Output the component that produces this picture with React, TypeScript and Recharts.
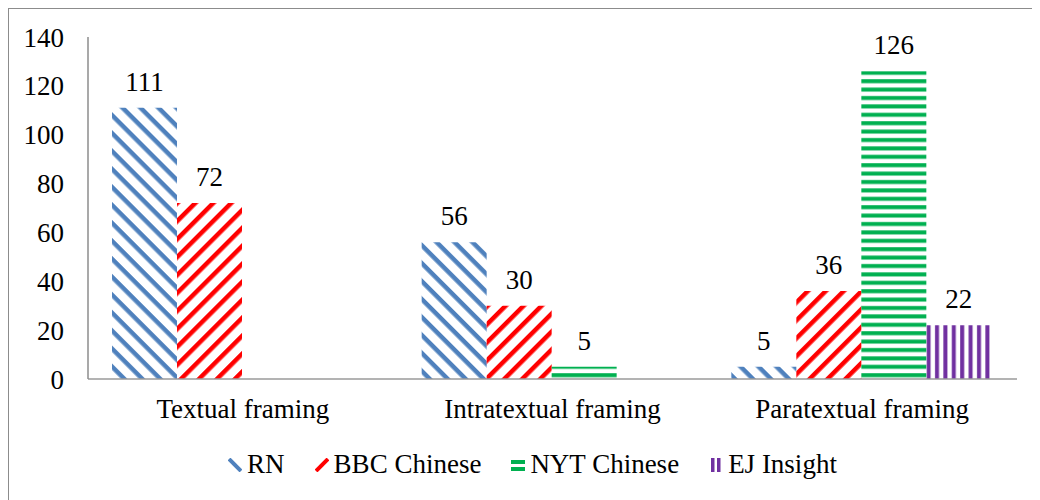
import React from 'react';
import { BarChart, Bar, XAxis, YAxis, LabelList, Legend } from 'recharts';

const categories = ['Textual framing', 'Intratextual framing', 'Paratextual framing'];
const rnValues = [111, 56, 5];
const bbcValues = [72, 30, 36];
const nytValues: (number | null)[] = [null, 5, 126];
const ejValues: (number | null)[] = [null, null, 22];
const yTicks = [0, 20, 40, 60, 80, 100, 120, 140];

const FONT = 'Liberation Serif';
const FS = 27;

const data = categories.map((name, i) => ({
  name,
  rn: rnValues[i],
  bbc: bbcValues[i],
  nyt: nytValues[i],
  ej: ejValues[i],
}));

const series = [
  { key: 'rn', name: 'RN', color: '#4F81BD', fill: 'url(#pRN)' },
  { key: 'bbc', name: 'BBC Chinese', color: '#FF0000', fill: 'url(#pBBC)' },
  { key: 'nyt', name: 'NYT Chinese', color: '#00B050', fill: 'url(#pNYT)' },
  { key: 'ej', name: 'EJ Insight', color: '#7030A0', fill: 'url(#pEJ)' },
];

function ValueLabel(props: any) {
  const { x, y, width, value } = props;
  if (value === null || value === undefined) return null;
  return (
    <text x={x + width / 2} y={y - 17} textAnchor="middle" fontSize={FS} style={{ fontFamily: FONT }} fill="#000">
      {value}
    </text>
  );
}

function LegendIcon({ k, color }: { k: string; color: string }) {
  return (
    <svg width={14} height={14} style={{ marginRight: 5 }}>
      {k === 'rn' && <line x1={1} y1={1} x2={13} y2={13} stroke={color} strokeWidth={4} />}
      {k === 'bbc' && <line x1={1} y1={13} x2={13} y2={1} stroke={color} strokeWidth={4} />}
      {k === 'nyt' && (
        <>
          <rect x={0} y={2} width={14} height={4} fill={color} />
          <rect x={0} y={9} width={14} height={4} fill={color} />
        </>
      )}
      {k === 'ej' && (
        <>
          <rect x={2} y={0} width={3.5} height={14} fill={color} />
          <rect x={8} y={0} width={3.5} height={14} fill={color} />
        </>
      )}
    </svg>
  );
}

function ChartLegend() {
  return (
    <div style={{ display: 'flex', justifyContent: 'center', alignItems: 'center', fontFamily: FONT, fontSize: FS, color: '#000' }}>
      {series.map((s, i) => (
        <div key={s.key} style={{ display: 'flex', alignItems: 'center', marginLeft: i === 0 ? 0 : 30 }}>
          <LegendIcon k={s.key} color={s.color} />
          <span>{s.name}</span>
        </div>
      ))}
    </div>
  );
}

export default function App() {
  return (
    <div style={{ position: 'relative', width: 1040, height: 500, border: '1px solid #8c8c8c', background: '#fff', fontFamily: FONT }}>
      <BarChart
        width={1031}
        height={491}
        data={data}
        margin={{ top: 28, right: 23, left: 0, bottom: 81 }}
        barCategoryGap={24}
        barGap={0}
        style={{ fontFamily: FONT }}
      >
        <defs>
          <pattern id="pRN" patternUnits="userSpaceOnUse" width={12.7} height={12.7} patternTransform="rotate(45)">
            <rect x={0} y={0} width={12.7} height={4.5} fill="#4F81BD" />
          </pattern>
          <pattern id="pBBC" patternUnits="userSpaceOnUse" width={12.7} height={12.7} patternTransform="rotate(-45)">
            <rect x={0} y={0} width={12.7} height={4.5} fill="#FF0000" />
          </pattern>
          <pattern id="pNYT" patternUnits="userSpaceOnUse" width={8.4} height={8.4}>
            <rect x={0} y={3} width={8.4} height={4} fill="#00B050" />
          </pattern>
          <pattern id="pEJ" patternUnits="userSpaceOnUse" width={8.4} height={8.4}>
            <rect x={2} y={0} width={4} height={8.4} fill="#7030A0" />
          </pattern>
        </defs>
        <XAxis
          dataKey="name"
          height={40}
          tickLine={false}
          tickSize={0}
          tickMargin={20}
          stroke="#9a9a9a"
          strokeWidth={1.5}
          tick={{ fontSize: FS, fontFamily: FONT, fill: '#000' }}
        />
        <YAxis
          width={79}
          domain={[0, 140]}
          ticks={yTicks}
          tickLine={false}
          tickSize={0}
          tickMargin={24}
          stroke="#8c8c8c"
          strokeWidth={1.5}
          tick={{ fontSize: FS, fontFamily: FONT, fill: '#000' }}
        />
        <Legend
          verticalAlign="middle"
          align="center"
          layout="horizontal"
          wrapperStyle={{ top: 440, left: 8, width: 1031 }}
          content={() => <ChartLegend />}
        />
        {series.map((s) => (
          <Bar key={s.key} dataKey={s.key} name={s.name} fill={s.fill} isAnimationActive={false}>
            <LabelList dataKey={s.key} content={ValueLabel} />
          </Bar>
        ))}
      </BarChart>
    </div>
  );
}
